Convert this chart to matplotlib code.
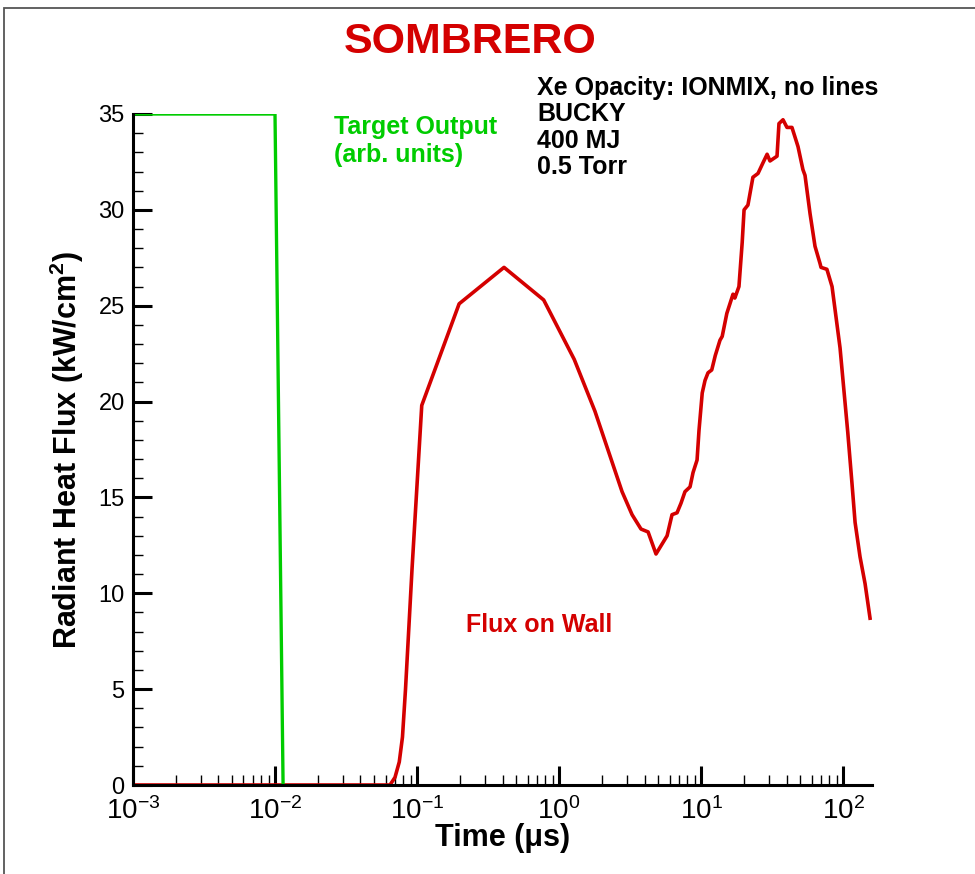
import numpy as np
import matplotlib
matplotlib.use('Agg')
from matplotlib import pyplot as plt
from matplotlib.ticker import LogLocator, MultipleLocator
from matplotlib.patches import Rectangle

plt.rcParams['font.family'] = ['Liberation Sans', 'DejaVu Sans']
plt.rcParams['mathtext.fontset'] = 'custom'
plt.rcParams['mathtext.rm'] = 'Liberation Sans'
plt.rcParams['axes.unicode_minus'] = False

# wall flux vs time (us), kW/cm^2
t_wall = [1e-3, 0.0645, 0.070, 0.075, 0.079, 0.083, 0.0923, 0.108, 0.198, 0.41,
          0.78, 1.28, 1.79, 2.78, 3.27, 3.78, 4.24, 4.82, 5.77, 6.25,
          6.78, 7.23, 7.71, 8.37, 8.79, 9.38, 9.68, 10.2, 10.67, 11.2,
          11.9, 12.6, 13.6, 14.1, 15.2, 16.8, 17.3, 18.5, 19.5, 20.1,
          21.4, 23.2, 25.2, 27.3, 29.2, 30.6, 34.3, 35.4, 37.8, 40.3,
          43.7, 48.2, 52.2, 54.0, 58.6, 63.5, 68.9, 70.0, 77.0, 83.7,
          95.3, 100.0, 108.0, 115.6, 121.6, 131.8, 143.0, 155.0]
q_wall = [0.0, 0.0, 0.4, 1.2, 2.5, 5.0, 11.3, 19.8, 25.1, 27.0,
          25.3, 22.2, 19.5, 15.3, 14.1, 13.35, 13.2, 12.05, 13.0, 14.1,
          14.2, 14.7, 15.3, 15.55, 16.3, 16.95, 18.5, 20.45, 21.1, 21.5,
          21.65, 22.4, 23.2, 23.4, 24.6, 25.6, 25.4, 26.0, 28.3, 30.0,
          30.25, 31.7, 31.9, 32.45, 32.9, 32.55, 32.8, 34.5, 34.7, 34.3,
          34.3, 33.3, 32.1, 31.8, 29.8, 28.1, 27.2, 27.0, 26.9, 26.0,
          22.8, 21.1, 18.4, 15.75, 13.7, 11.9, 10.5, 8.7]

# target output pulse (arb. units)
t_target = [1e-3, 1.0e-2, 1.14e-2]
q_target = [35.0, 35.0, 0.0]

RED = '#d40000'
GREEN = '#00cc00'

fig = plt.figure(figsize=(9.75, 8.74), dpi=100)
fig.patches.append(Rectangle((4 / 975, -0.1), 1.2, (1 - 8 / 874) + 0.1,
                             transform=fig.transFigure, fill=False,
                             edgecolor='#555555', linewidth=1.3))
ax = fig.add_axes([133 / 975, 1 - 785 / 874, (872 - 133) / 975, (785 - 114) / 874])

ax.plot(t_wall, q_wall, color=RED, lw=2.6)
ax.plot(t_target, q_target, color=GREEN, lw=2.4)

ax.set_xscale('log')
ax.set_xlim(1e-3, 160)
ax.set_ylim(0, 35)
ax.xaxis.set_major_locator(LogLocator(base=10, numticks=10))
ax.xaxis.set_minor_locator(LogLocator(base=10, subs=np.arange(2, 10), numticks=20))
ax.yaxis.set_major_locator(MultipleLocator(5))
ax.yaxis.set_minor_locator(MultipleLocator(1))

for s in ['top', 'right']:
    ax.spines[s].set_visible(False)
for s in ['left', 'bottom']:
    ax.spines[s].set_linewidth(2.2)

ax.tick_params(which='major', direction='in', length=14, width=2.2)
ax.tick_params(which='minor', direction='in', length=7.5, width=1.0)
ax.tick_params(axis='x', which='major', labelsize=20, pad=9)
ax.tick_params(axis='y', which='major', labelsize=17, pad=6)

ax.set_xlabel('Time (μs)', fontsize=22, fontweight='bold', labelpad=-2)
ax.set_ylabel('Radiant Heat Flux (kW/cm$\\mathdefault{^2}$)', fontsize=22,
              fontweight='bold', labelpad=9)

fig.text(470 / 975, 1 - 42 / 874, 'SOMBRERO', color=RED, fontsize=31,
         fontweight='bold', ha='center', va='center')

info = ['Xe Opacity: IONMIX, no lines', 'BUCKY', '400 MJ', '0.5 Torr']
for i, line in enumerate(info):
    fig.text(537 / 975, 1 - (88 + 26.3 * i) / 874, line, fontsize=18,
             fontweight='bold', ha='left', va='center')

fig.text(334 / 975, 1 - 127 / 874, 'Target Output', color=GREEN, fontsize=18,
         fontweight='bold', ha='left', va='center')
fig.text(334 / 975, 1 - 155 / 874, '(arb. units)', color=GREEN, fontsize=18,
         fontweight='bold', ha='left', va='center')
fig.text(466 / 975, 1 - 625 / 874, 'Flux on Wall', color=RED, fontsize=18,
         fontweight='bold', ha='left', va='center')

fig.savefig('out.png', dpi=100)
